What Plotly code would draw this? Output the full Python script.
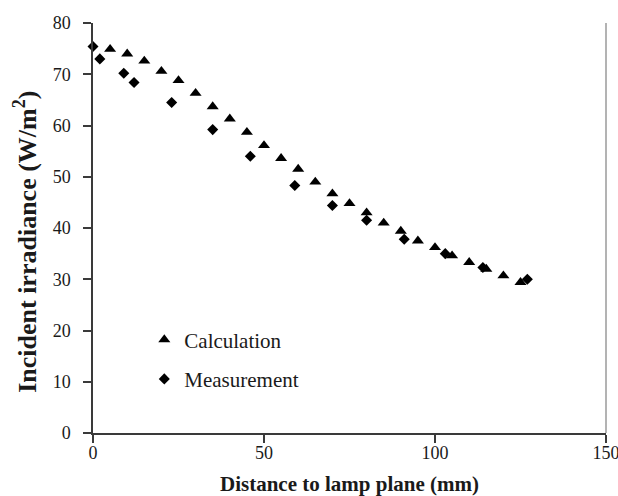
import plotly.graph_objects as go

calc_x = [5, 10, 15, 20, 25, 30, 35, 40, 45, 50, 55, 60, 65, 70, 75, 80, 85, 90, 95, 100, 105, 110, 115, 120, 125]
calc_y = [74.9, 74.0, 72.6, 70.6, 68.8, 66.3, 63.7, 61.3, 58.7, 56.1, 53.6, 51.5, 49.0, 46.7, 44.8, 43.0, 41.0, 39.4, 37.5, 36.2, 34.6, 33.3, 32.0, 30.7, 29.4]

meas_x = [0, 2, 9, 12, 23, 35, 46, 59, 70, 80, 91, 103, 114, 127]
meas_y = [75.4, 73.0, 70.2, 68.4, 64.5, 59.2, 54.0, 48.3, 44.4, 41.5, 37.8, 35.0, 32.3, 30.0]

x_ticks = [0, 50, 100, 150]
y_ticks = [0, 10, 20, 30, 40, 50, 60, 70, 80]

FONT = "Liberation Serif, Times New Roman, serif"
TXT = "#1a1a1a"
AX = "#3a3a3a"

fig = go.Figure()
fig.add_trace(go.Scatter(x=calc_x, y=calc_y, mode="markers", name="Calculation",
                         legendgroup="a",
                         marker=dict(symbol="triangle-up", size=10.5, color="black"),
                         cliponaxis=False))
fig.add_trace(go.Scatter(x=meas_x, y=meas_y, mode="markers", name="Measurement",
                         legendgroup="b",
                         marker=dict(symbol="diamond", size=8.5, color="black"),
                         cliponaxis=False))

fig.add_shape(type="line", xref="paper", yref="paper", x0=1, x1=1, y0=0, y1=1,
              line=dict(color="#9a9a9a", width=1.5))

fig.add_annotation(text="<b>Incident irradiance (W/m<sup>2</sup>)</b>",
                   xref="paper", yref="paper", x=-67 / 512, y=0.466,
                   xanchor="center", yanchor="middle", textangle=-90, showarrow=False,
                   font=dict(family=FONT, size=26, color=TXT))

fig.update_layout(
    width=618, height=496,
    margin=dict(l=93, r=12, t=23, b=63),
    paper_bgcolor="white", plot_bgcolor="white",
    font=dict(family=FONT, size=18, color=TXT),
    showlegend=True,
    legend=dict(x=0.1, y=0.277, xanchor="left", yanchor="top",
                font=dict(family=FONT, size=21, color=TXT),
                tracegroupgap=9, bgcolor="rgba(0,0,0,0)", itemwidth=30),
    xaxis=dict(range=[0, 150], tickvals=x_ticks, showgrid=False, zeroline=False,
               automargin=False, ticklabeloverflow="allow",
               showline=True, linecolor=AX, linewidth=1.5,
               ticks="outside", ticklen=8, tickwidth=1.5, tickcolor=AX,
               ticklabelstandoff=-5,
               tickfont=dict(family=FONT, size=18, color=TXT),
               title=dict(text="<b>Distance to lamp plane (mm)</b>",
                          font=dict(family=FONT, size=21, color=TXT), standoff=20)),
    yaxis=dict(range=[0, 80], tickvals=y_ticks, showgrid=False, zeroline=False,
               automargin=False, ticklabeloverflow="allow",
               showline=True, linecolor=AX, linewidth=1.5,
               ticks="outside", ticklen=8, tickwidth=1.5, tickcolor=AX,
               ticklabelstandoff=9,
               tickfont=dict(family=FONT, size=18, color=TXT)),
)

fig.write_html("out.html")
